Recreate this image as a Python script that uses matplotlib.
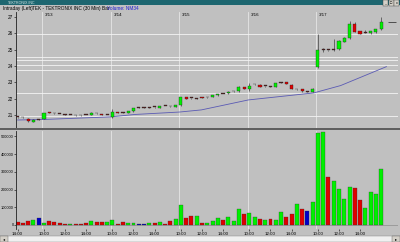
import numpy as np
import matplotlib
matplotlib.use('Agg')
import matplotlib.pyplot as plt
from matplotlib.patches import Rectangle

plt.rcParams['font.family'] = ['Liberation Sans', 'DejaVu Sans']

# 30 min bars: last 5 bars of 3/12, then 3/13 .. 3/17 (13 bars each)
opens = [20.86, 20.87, 20.77, 20.58, 20.72,
         20.78, 21.18, 21.12, 21.06, 21.01, 20.99, 20.98, 20.97, 20.99, 21.00, 21.11, 21.06, 21.00,
         20.85, 21.17, 21.14, 21.12, 21.22, 21.45, 21.45, 21.45, 21.47, 21.45, 21.55, 21.53, 21.50,
         21.60, 22.07, 22.02, 22.00, 22.06, 22.07, 22.13, 22.20, 22.29, 22.32, 22.44, 22.45, 22.70,
         22.58, 22.87, 22.85, 22.76, 22.74, 22.74, 22.98, 23.00, 22.85, 22.57, 22.56, 22.43, 22.40,
         23.96, 24.98, 24.98, 24.98, 25.02, 25.49, 25.70, 26.55, 26.14, 26.04, 26.00, 26.06, 26.25]
highs = [20.88, 20.89, 20.79, 20.74, 20.74,
         21.15, 21.20, 21.13, 21.07, 21.03, 21.02, 21.00, 20.99, 21.02, 21.17, 21.13, 21.08, 21.02,
         21.35, 21.20, 21.16, 21.24, 21.44, 21.47, 21.47, 21.48, 21.49, 21.57, 21.57, 21.55, 21.62,
         22.12, 22.09, 22.04, 22.02, 22.08, 22.10, 22.25, 22.30, 22.31, 22.44, 22.46, 22.75, 22.72,
         22.95, 22.92, 22.87, 22.78, 22.76, 22.95, 23.05, 23.02, 22.87, 22.59, 22.58, 22.45, 22.65,
         25.95, 25.10, 25.00, 25.65, 25.58, 25.75, 26.76, 26.70, 26.16, 26.20, 26.16, 26.29, 26.98]
lows = [20.84, 20.84, 20.58, 20.56, 20.70,
        20.75, 21.13, 21.07, 21.03, 20.98, 20.98, 20.95, 20.95, 20.97, 20.99, 21.08, 20.99, 20.98,
        20.80, 21.09, 21.11, 21.10, 21.20, 21.43, 21.43, 21.44, 21.45, 21.44, 21.52, 21.50, 21.48,
        21.55, 21.96, 22.00, 21.98, 22.02, 22.06, 22.11, 22.19, 22.27, 22.30, 22.42, 22.43, 22.58,
        22.45, 22.85, 22.72, 22.74, 22.72, 22.72, 22.96, 22.88, 22.56, 22.55, 22.42, 22.41, 22.38,
        23.90, 24.85, 24.95, 24.95, 25.00, 25.47, 25.68, 26.08, 25.96, 26.02, 25.98, 26.04, 26.23]
closes = [20.86, 20.85, 20.60, 20.72, 20.72,
          21.10, 21.15, 21.09, 21.05, 21.00, 21.00, 20.97, 20.97, 21.00, 21.15, 21.10, 21.00, 21.00,
          21.20, 21.10, 21.13, 21.22, 21.42, 21.45, 21.45, 21.46, 21.47, 21.55, 21.54, 21.52, 21.60,
          22.08, 21.98, 22.02, 22.00, 22.03, 22.08, 22.23, 22.28, 22.29, 22.42, 22.44, 22.73, 22.60,
          22.80, 22.88, 22.74, 22.76, 22.74, 22.93, 22.99, 22.90, 22.58, 22.57, 22.44, 22.43, 22.60,
          24.98, 24.98, 24.97, 24.99, 25.55, 25.73, 26.55, 26.10, 25.98, 26.04, 26.14, 26.27, 26.71]
volume = [15000, 10000, 22000, 28000, 40000,
          10000, 21000, 15000, 10000, 3000, 5000, 8000, 8000, 14000, 21000, 17000, 15000, 19000,
          26000, 8000, 19000, 11000, 13000, 8000, 3000, 13000, 11000, 17000, 6000, 23000, 32000,
          113000, 38000, 49000, 49000, 13000, 13000, 23000, 38000, 30000, 43000, 24000, 89000, 62000,
          66000, 43000, 34000, 28000, 32000, 28000, 73000, 47000, 62000, 120000, 90000, 77000, 128000,
          520000, 525000, 269000, 250000, 202000, 147000, 216000, 211000, 141000, 98000, 186000, 175000, 315000]
vol_dir = ("rrrgb"
           "grrrrgrrrgrrg"
           "grrggbbgrgrrg"
           "grrgrgggrgggr"
           "ggrgrggrrgrbg"
           "ggrggggrrgggg")

# moving average line read at a few bar positions
ma_x = [0, 4.7, 17.5, 22.3, 30.8, 34.9, 43.8, 56.2, 61.3, 70]
ma_y = [20.69, 20.72, 20.88, 21.03, 21.18, 21.31, 21.92, 22.35, 22.80, 23.96]

# horizontal lines drawn on the price pane
levels = [25.96, 24.55, 24.37, 24.06, 23.76, 22.35, 20.94]

day_start = [5, 18, 31, 44, 57]
day_names = ['3/13', '3/14', '3/15', '3/16', '3/17']
tick_pos = [0, 5, 9, 13, 18, 22, 26, 31, 35, 39, 44, 48, 52, 57, 61, 65]
tick_lab = ['14:00'] + ['10:00', '12:00', '14:00'] * 5

price_ticks = [21, 22, 23, 24, 25, 26, 27]
vol_ticks = [0, 100000, 200000, 300000, 400000, 500000]

BG = '#c0c0c0'
GREEN = '#00f000'
RED = '#e00000'
BLUE = '#0000c8'
W, H = 400, 242

fig = plt.figure(figsize=(4, 2.42), dpi=100, facecolor=BG)

def fy(y):
    return 1 - y / H

# title bar + header
fig.patches.append(Rectangle((0, fy(5)), 1, 5 / H, transform=fig.transFigure,
                             facecolor='#1d6670', edgecolor='none'))
fig.text(8 / W, fy(2.5), 'TEKTRONIX.INC', color='#d8e8e8', fontsize=2.6, va='center')
for k, s in enumerate(['_', '□', 'x']):
    x0 = (383 + k * 5.5) / W
    fig.patches.append(Rectangle((x0, fy(5.5)), 5 / W, 5 / H, transform=fig.transFigure,
                                 facecolor='#d4d0c8', edgecolor='#404040', lw=0.3))
    fig.text(x0 + 2.5 / W, fy(3), s, fontsize=2.6, ha='center', va='center')
fig.text(3 / W, fy(8.5), 'Intraday (Left)', fontsize=3.4, va='center')
fig.text(32 / W, fy(8.5), 'TEK - TEKTRONIX INC (30 Min) Bar', fontsize=3.4, va='center')
fig.text(107 / W, fy(8.5), 'Volume: NM34', fontsize=3.4, va='center', color='#2020d0')

# panes
axp = fig.add_axes([16 / W, fy(128), 382 / W, 116 / H], facecolor=BG)
axv = fig.add_axes([16 / W, fy(229), 382 / W, 98 / H], facecolor=BG)

x = np.arange(len(closes))
for ax in (axp, axv):
    ax.set_xlim(-0.3, 72.2)
    for s in ('top', 'right', 'bottom'):
        ax.spines[s].set_visible(False)
    ax.spines['left'].set_color('#202020')
    ax.spines['left'].set_linewidth(0.6)
    ax.tick_params(axis='y', length=1.5, width=0.4, labelsize=3.4, pad=0.8)
    for d in day_start:
        ax.axvline(d - 0.3, color='#e6e6e6', lw=0.6, zorder=0)

# price pane
axp.set_ylim(20.2, 27.31)
axp.set_yticks(price_ticks)
axp.set_xticks([])
for lv in levels:
    axp.axhline(lv, color='#f4f4f4', lw=0.6, zorder=0)
for d, n in zip(day_start, day_names):
    axp.text(d + 0.2, 27.25, n, fontsize=3.2, va='top', ha='left')
axp.plot(ma_x, ma_y, color='#5a5ab4', lw=0.6, zorder=1)
o = np.array(opens); c = np.array(closes)
cols = np.where(c - o > 0.015, GREEN, np.where(o - c > 0.015, RED, '#602020'))
axp.vlines(x, lows, highs, color='#202020', lw=0.4, zorder=2)
body = np.maximum(np.abs(c - o), 0.05)
axp.bar(x, body, bottom=np.minimum(o, c), width=0.6, color=cols,
        edgecolor='#202020', linewidth=0.25, zorder=3)
axp.hlines(closes[-1], 70.3, 71.8, color='#202020', lw=0.5)

# volume pane
cmap = {'g': GREEN, 'r': RED, 'b': BLUE}
axv.set_ylim(-22600, 531000)
axv.set_yticks(vol_ticks)
axv.set_yticklabels([str(v) for v in vol_ticks])
axv.tick_params(axis='y', labelsize=2.8, pad=0.4, length=1.2)
axv.axhline(0, color='#808080', lw=0.4, zorder=0)
axv.bar(x, volume, width=0.75, color=[cmap[k] for k in vol_dir],
        edgecolor='#303030', linewidth=0.2, zorder=2)
axv.set_xticks(tick_pos)
axv.set_xticklabels(tick_lab)
axv.tick_params(axis='x', length=1.2, width=0.4, labelsize=3.2, pad=0.8)

# pane separator and scrollbar
fig.patches.append(Rectangle((0, fy(130)), 1, 2 / H, transform=fig.transFigure,
                             facecolor='#606060', edgecolor='none'))
fig.patches.append(Rectangle((0, 0), 1, 6 / H, transform=fig.transFigure,
                             facecolor='#f0f0f0', edgecolor='#808080', lw=0.3))
for x0, s in ((0, '◂'), (392, '▸')):
    fig.patches.append(Rectangle((x0 / W, 0), 8 / W, 6 / H, transform=fig.transFigure,
                                 facecolor='#d4d0c8', edgecolor='#606060', lw=0.3))
    fig.text((x0 + 4) / W, 3 / H, s, fontsize=3, ha='center', va='center')

plt.savefig('out.png', dpi=100, facecolor=BG)
